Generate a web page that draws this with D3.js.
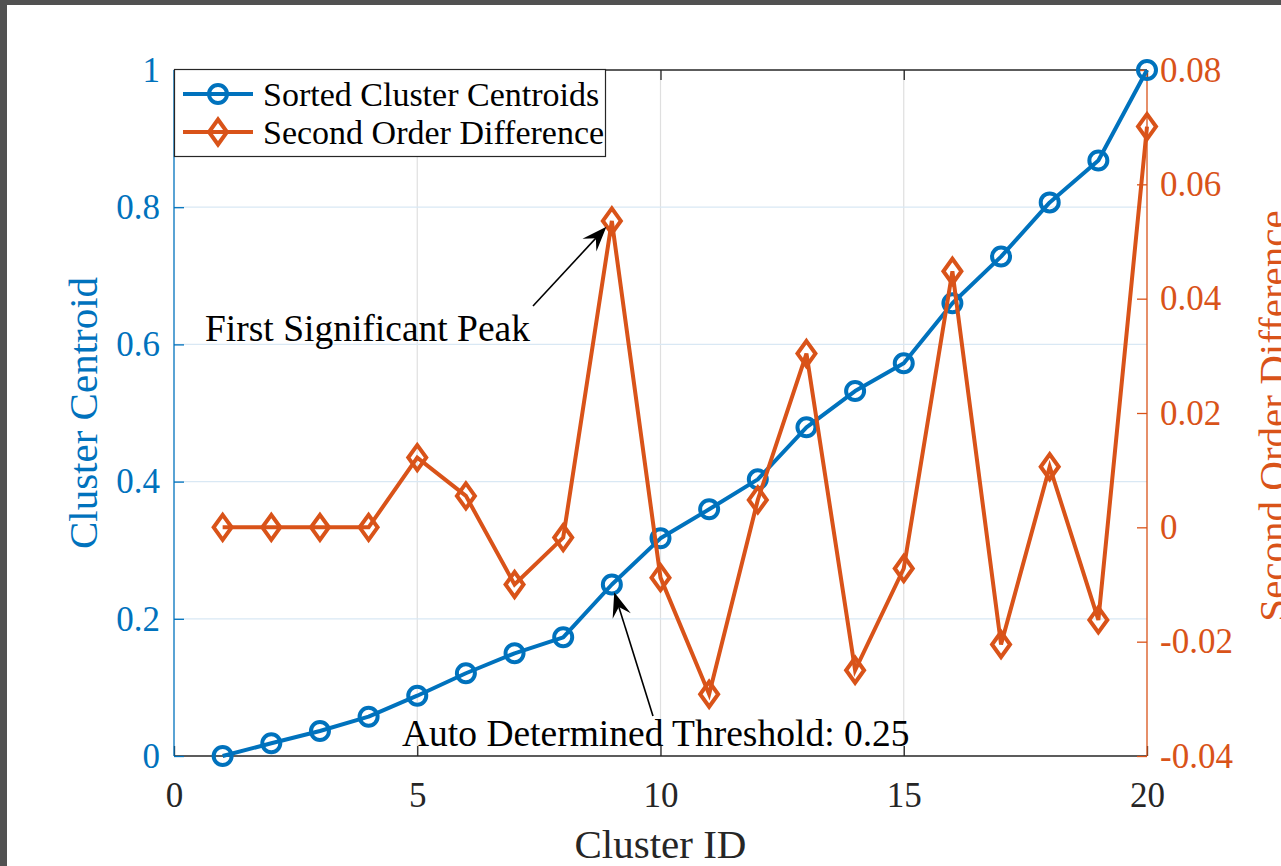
<!DOCTYPE html>
<html>
<head>
<meta charset="utf-8">
<script src="https://cdn.jsdelivr.net/npm/d3@7"></script>
<style>
  html, body { margin: 0; padding: 0; background: #ffffff; overflow: hidden; }
  svg { display: block; }
</style>
</head>
<body>
<svg id="chart" width="1281" height="866"></svg>
<script>
// Cluster IDs along the x axis
const clusterIds = [1, 2, 3, 4, 5, 6, 7, 8, 9, 10, 11, 12, 13, 14, 15, 16, 17, 18, 19, 20];
// Sorted cluster centroids (left axis)
const centroids = [0.000, 0.0185, 0.0364, 0.0573, 0.0879, 0.1206, 0.1497, 0.1730, 0.25, 0.3173,
                   0.3596, 0.4033, 0.4791, 0.5320, 0.5724, 0.6600, 0.7280, 0.8070, 0.8680, 1.000];
// Second order difference of the centroids (right axis)
const secondDiff = [0, 0, 0, 0, 0.0122, 0.0055, -0.0100, -0.0018, 0.0536, -0.0088,
                    -0.0292, 0.0048, 0.0304, -0.0250, -0.0072, 0.0448, -0.0205, 0.0106, -0.0162, 0.0701];

const xTicks = [0, 5, 10, 15, 20];
const leftTicks = [0, 0.2, 0.4, 0.6, 0.8, 1];
const rightTicks = [-0.04, -0.02, 0, 0.02, 0.04, 0.06, 0.08];
const xGrid = [5, 10, 15];
const yGrid = [0.2, 0.4, 0.6, 0.8];

const seriesNames = ["Sorted Cluster Centroids", "Second Order Difference"];
const peakLabel = "First Significant Peak";
const thresholdLabel = "Auto Determined Threshold: 0.25";
const thresholdIndex = 8; // cluster 9

const BLUE = "#0072BD";
const ORANGE = "#D95319";
const INK = "#262626";
const FONT = "'Liberation Serif', 'Times New Roman', Times, serif";

const svg = d3.select("#chart");
const W = 1281, H = 866;
const plot = { left: 174, right: 1147, top: 70, bottom: 756 };

// window frame
svg.append("rect").attr("x", 0).attr("y", 0).attr("width", W).attr("height", H).attr("fill", "#ffffff");
svg.append("rect").attr("x", 0).attr("y", 0).attr("width", W).attr("height", 5).attr("fill", "#515151");
svg.append("rect").attr("x", 0).attr("y", 0).attr("width", 7).attr("height", H).attr("fill", "#515151");

const x = d3.scaleLinear().domain([0, 20]).range([plot.left, plot.right]);
const yL = d3.scaleLinear().domain([0, 1]).range([plot.bottom, plot.top]);
const yR = d3.scaleLinear().domain([-0.04, 0.08]).range([plot.bottom, plot.top]);

// grid
const grid = svg.append("g");
grid.selectAll("line.gx").data(xGrid).join("line")
  .attr("x1", d => x(d)).attr("x2", d => x(d))
  .attr("y1", plot.top).attr("y2", plot.bottom)
  .attr("stroke", "#dfdfdf").attr("stroke-width", 1.2);
grid.selectAll("line.gy").data(yGrid).join("line")
  .attr("x1", plot.left).attr("x2", plot.right)
  .attr("y1", d => yL(d)).attr("y2", d => yL(d))
  .attr("stroke", "#d9e8f4").attr("stroke-width", 1.2);

function styleAxis(g, color, size) {
  g.select(".domain").remove();
  g.selectAll(".tick line").attr("stroke", color).attr("stroke-width", 1.3);
  g.selectAll(".tick text").attr("fill", color).attr("font-family", FONT).attr("font-size", size);
}

// bottom & top axes (black)
const gBottom = svg.append("g").attr("transform", `translate(0,${plot.bottom})`)
  .call(d3.axisBottom(x).tickValues(xTicks).tickSize(-10).tickPadding(26).tickFormat(d3.format("d")));
styleAxis(gBottom, INK, 35);
svg.append("line").attr("x1", plot.left).attr("x2", plot.right)
  .attr("y1", plot.bottom).attr("y2", plot.bottom).attr("stroke", INK).attr("stroke-width", 1.3);

const gTop = svg.append("g").attr("transform", `translate(0,${plot.top})`)
  .call(d3.axisTop(x).tickValues(xTicks).tickSize(-10).tickFormat(""));
styleAxis(gTop, INK, 35);
svg.append("line").attr("x1", plot.left).attr("x2", plot.right)
  .attr("y1", plot.top).attr("y2", plot.top).attr("stroke", INK).attr("stroke-width", 1.3);

// left axis (blue)
const gLeft = svg.append("g").attr("transform", `translate(${plot.left},0)`)
  .call(d3.axisLeft(yL).tickValues(leftTicks).tickSize(-10).tickPadding(14).tickFormat(d => String(+d.toFixed(2))));
styleAxis(gLeft, BLUE, 35);
svg.append("line").attr("x1", plot.left).attr("x2", plot.left)
  .attr("y1", plot.top).attr("y2", plot.bottom).attr("stroke", BLUE).attr("stroke-width", 1.3);

// right axis (orange)
const gRight = svg.append("g").attr("transform", `translate(${plot.right},0)`)
  .call(d3.axisRight(yR).tickValues(rightTicks).tickSize(-10).tickPadding(13).tickFormat(d => String(+d.toFixed(2))));
styleAxis(gRight, ORANGE, 35);
svg.append("line").attr("x1", plot.right).attr("x2", plot.right)
  .attr("y1", plot.top).attr("y2", plot.bottom).attr("stroke", ORANGE).attr("stroke-width", 1.3);

// axis titles
svg.append("text").attr("x", (plot.left + plot.right) / 2).attr("y", 858)
  .attr("text-anchor", "middle").attr("font-family", FONT).attr("font-size", 41).attr("fill", INK)
  .text("Cluster ID");
svg.append("text").attr("transform", `translate(97,${(plot.top + plot.bottom) / 2}) rotate(-90)`)
  .attr("text-anchor", "middle").attr("font-family", FONT).attr("font-size", 41).attr("fill", BLUE)
  .text("Cluster Centroid");
svg.append("text").attr("transform", `translate(1287,416) rotate(-90)`)
  .attr("text-anchor", "middle").attr("font-family", FONT).attr("font-size", 41).attr("fill", ORANGE)
  .text("Second Order Difference");

// markers
const LW = 4;
function circleMarker(sel, cx, cy, color) {
  sel.append("circle").attr("cx", cx).attr("cy", cy).attr("r", 9)
    .attr("fill", "none").attr("stroke", color).attr("stroke-width", LW);
}
function diamondPath(cx, cy) {
  const a = 9, b = 12.5;
  return `M${cx},${cy - b}L${cx + a},${cy}L${cx},${cy + b}L${cx - a},${cy}Z`;
}

// centroid series
const lineL = d3.line().x((d, i) => x(clusterIds[i])).y(d => yL(d));
svg.append("path").datum(centroids).attr("d", lineL)
  .attr("fill", "none").attr("stroke", BLUE).attr("stroke-width", LW).attr("stroke-linejoin", "round");
const gL = svg.append("g");
centroids.forEach((v, i) => circleMarker(gL, x(clusterIds[i]), yL(v), BLUE));

// second order difference series
const lineR = d3.line().x((d, i) => x(clusterIds[i])).y(d => yR(d));
svg.append("path").datum(secondDiff).attr("d", lineR)
  .attr("fill", "none").attr("stroke", ORANGE).attr("stroke-width", LW).attr("stroke-linejoin", "miter");
svg.append("g").selectAll("path").data(secondDiff).join("path")
  .attr("d", (v, i) => diamondPath(x(clusterIds[i]), yR(v)))
  .attr("fill", "none").attr("stroke", ORANGE).attr("stroke-width", LW).attr("stroke-linejoin", "miter");

// legend
const legend = svg.append("g");
legend.append("rect").attr("x", 174.5).attr("y", 69.5).attr("width", 431).attr("height", 87)
  .attr("fill", "#ffffff").attr("stroke", INK).attr("stroke-width", 1.2);
const rows = [
  { name: seriesNames[0], color: BLUE, y: 94, kind: "circle" },
  { name: seriesNames[1], color: ORANGE, y: 132, kind: "diamond" }
];
rows.forEach(r => {
  legend.append("line").attr("x1", 183).attr("x2", 253).attr("y1", r.y).attr("y2", r.y)
    .attr("stroke", r.color).attr("stroke-width", LW);
  if (r.kind === "circle") circleMarker(legend, 218, r.y, r.color);
  else legend.append("path").attr("d", diamondPath(218, r.y)).attr("fill", "none")
    .attr("stroke", r.color).attr("stroke-width", LW);
  legend.append("text").attr("x", 263).attr("y", r.y + 12)
    .attr("font-family", FONT).attr("font-size", 34).attr("fill", "#000")
    .text(r.name);
});

// annotations
function arrow(tail, target, gap) {
  const dx = target[0] - tail[0], dy = target[1] - tail[1];
  const len = Math.hypot(dx, dy);
  const ux = dx / len, uy = dy / len, nx = -uy, ny = ux;
  const tip = [target[0] - ux * gap, target[1] - uy * gap];
  const L = 25, hw = 9.5, notch = 0.62;
  const back = [tip[0] - ux * L * notch, tip[1] - uy * L * notch];
  svg.append("line").attr("x1", tail[0]).attr("y1", tail[1]).attr("x2", back[0]).attr("y2", back[1])
    .attr("stroke", "#000").attr("stroke-width", 1.6);
  const p1 = [tip[0] - ux * L + nx * hw, tip[1] - uy * L + ny * hw];
  const p2 = [tip[0] - ux * L - nx * hw, tip[1] - uy * L - ny * hw];
  svg.append("path").attr("d", `M${tip}L${p1}L${back}L${p2}Z`).attr("fill", "#000");
}

arrow([533, 306], [x(clusterIds[thresholdIndex]), yR(secondDiff[thresholdIndex])], 8);
svg.append("text").attr("x", 205).attr("y", 341)
  .attr("font-family", FONT).attr("font-size", 37.5).attr("fill", "#000").text(peakLabel);

arrow([653, 716], [x(clusterIds[thresholdIndex]), yL(centroids[thresholdIndex])], 8);
svg.append("text").attr("x", 402).attr("y", 746)
  .attr("font-family", FONT).attr("font-size", 37.5).attr("fill", "#000").text(thresholdLabel);
</script>
</body>
</html>
